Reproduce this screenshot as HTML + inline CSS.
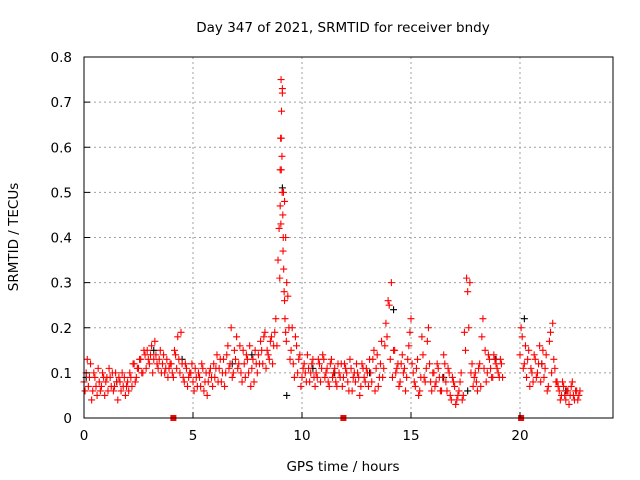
<!DOCTYPE html>
<html><head><meta charset="utf-8"><style>
body{margin:0;background:#fff}
svg{display:block;font-family:"DejaVu Sans","Liberation Sans",sans-serif}
</style></head><body>
<svg id="chart" width="640" height="480">
<text x="343" y="32" font-size="13.5" text-anchor="middle">Day 347 of 2021, SRMTID for receiver bndy</text>
<text x="343" y="471" font-size="13.5" text-anchor="middle">GPS time / hours</text>
<text x="18" y="237" font-size="13.5" text-anchor="middle" transform="rotate(-90 18 237)">SRMTID / TECUs</text>
<g id="grid"></g>
<g id="marks"></g>
<rect x="84" y="57" width="529" height="361" fill="none" stroke="#000"/>
<g id="ticks"></g>
</svg>
<script>
const xTicks=[0,5,10,15,20];
const yTicks=[0,0.1,0.2,0.3,0.4,0.5,0.6,0.7,0.8];
const yTickLabels=["0","0.1","0.2","0.3","0.4","0.5","0.6","0.7","0.8"];
const redA=[0.08,0.10,0.07,0.12,0.06,0.09,0.05,0.08,0.07,0.09,0.08,0.06,0.09,0.10,0.07,0.08,0.09,0.06,0.07,0.05,0.08,0.10,0.07,0.12,0.09,0.11,0.13,0.10,0.14,0.15,0.12,0.16,0.13,0.14,0.11,0.15,0.12,0.10,0.13,0.11,0.12,0.09,0.14,0.18,0.10,0.12,0.08,0.11,0.09,0.10,0.08,0.11,0.07,0.09,0.12,0.06,0.10,0.08,0.11,0.07,0.09,0.14,0.11,0.08,0.13,0.10,0.16,0.12,0.09,0.15,0.18,0.12,0.10,0.15,0.09,0.13,0.16,0.11,0.08,0.12,0.14,0.17,0.12,0.19,0.15,0.13,0.18,0.16,0.22,0.35,0.55,0.72,0.48,0.30,0.20,0.15,0.12,0.18,0.10,0.14,0.09,0.12,0.08,0.11,0.10,0.13,0.07,0.09,0.12,0.11,0.13,0.10,0.08,0.12,0.09,0.11,0.07,0.10,0.12,0.09,0.11,0.08,0.13,0.06,0.10,0.12,0.09,0.07,0.11,0.08,0.10,0.13,0.08,0.15,0.11,0.07,0.12,0.09,0.16,0.18,0.25,0.30,0.15,0.10,0.12,0.08,0.14,0.11,0.09,0.16,0.22,0.10,0.07,0.13,0.06,0.18,0.09,0.11,0.20,0.08,0.10,0.07,0.12,0.09,0.06,0.14,0.08,0.11,0.05,0.09,0.07,0.04,0.06,0.10,0.05,0.15,0.28,0.30,0.12,0.09,0.08,0.11,0.07,0.22,0.15,0.10,0.13,0.09,0.14,0.12,0.10,0.13,0.09];
const redB=[0.06,0.13,0.09,0.04,0.10,0.07,0.11,0.06,0.10,0.05,0.09,0.11,0.07,0.06,0.10,0.04,0.08,0.10,0.09,0.07,0.06,0.09,0.12,0.08,0.11,0.13,0.10,0.15,0.11,0.13,0.14,0.10,0.17,0.12,0.13,0.10,0.14,0.11,0.09,0.12,0.10,0.15,0.11,0.13,0.19,0.09,0.12,0.07,0.10,0.12,0.06,0.09,0.10,0.07,0.11,0.08,0.05,0.10,0.09,0.12,0.11,0.08,0.13,0.10,0.07,0.14,0.11,0.20,0.10,0.13,0.11,0.16,0.08,0.12,0.14,0.10,0.07,0.13,0.15,0.10,0.12,0.15,0.18,0.11,0.14,0.17,0.12,0.19,0.16,0.42,0.62,0.50,0.40,0.27,0.13,0.20,0.09,0.16,0.13,0.07,0.11,0.10,0.14,0.08,0.12,0.09,0.10,0.13,0.08,0.14,0.09,0.11,0.07,0.13,0.10,0.08,0.12,0.09,0.07,0.12,0.10,0.06,0.11,0.09,0.08,0.10,0.05,0.12,0.09,0.11,0.07,0.10,0.13,0.06,0.14,0.09,0.17,0.11,0.21,0.26,0.13,0.09,0.15,0.11,0.07,0.12,0.10,0.06,0.13,0.19,0.12,0.08,0.11,0.05,0.09,0.14,0.08,0.17,0.12,0.06,0.10,0.08,0.11,0.06,0.09,0.12,0.06,0.10,0.04,0.08,0.03,0.05,0.08,0.04,0.19,0.31,0.20,0.10,0.07,0.10,0.06,0.12,0.18,0.11,0.08,0.14,0.11,0.09,0.13,0.11,0.09,0.12];
const redC=[0.14,0.18,0.12,0.09,0.15,0.11,0.08,0.13,0.10,0.16,0.12,0.09,0.14,0.07,0.19,0.21,0.11,0.08,0.06,0.05,0.07,0.04,0.06,0.05,0.08,0.04,0.06,0.05];
const redD=[0.20,0.11,0.16,0.13,0.07,0.10,0.14,0.09,0.12,0.08,0.15,0.11,0.06,0.17,0.10,0.13,0.08,0.07,0.04,0.08,0.05,0.06,0.03,0.07,0.05,0.06,0.04,0.06];
const spikeHours=[9.0,9.02,9.04,9.06,9.08,9.1,9.12,9.14,9.16,9.18,9.2,9.22,9.25,9.28,9.05,9.09,9.13,8.98,9.03];
const spikeValues=[0.47,0.62,0.75,0.68,0.58,0.73,0.45,0.40,0.33,0.28,0.26,0.22,0.19,0.17,0.55,0.50,0.37,0.31,0.43];
const blackHours=[0.1,1.5,3.2,6.8,9.1,9.3,10.5,13.1,14.2,16.5,17.6,18.9,20.2,21.0,22.1,4.5,7.7,11.5];
const blackValues=[0.09,0.08,0.15,0.12,0.51,0.05,0.11,0.10,0.24,0.09,0.06,0.13,0.22,0.12,0.06,0.13,0.14,0.10];
const gapHours=[4.1,11.9,20.05];

const X0=84,X1=613,Y0=418,Y1=57;
function xs(h){return X0+h*21.8;}
function ys(v){return Y0-(v/0.8)*(Y0-Y1);}
const NS='http://www.w3.org/2000/svg';
const grid=document.getElementById('grid'),ticks=document.getElementById('ticks'),marks=document.getElementById('marks');
function mk(tag,attrs,parent){const e=document.createElementNS(NS,tag);for(const k in attrs)e.setAttribute(k,attrs[k]);parent.appendChild(e);return e;}
xTicks.forEach(t=>{
 const x=xs(t);
 if(t>0){const g=mk('line',{x1:x,x2:x,y1:Y1,y2:Y0,stroke:'#a0a0a0','stroke-dasharray':'2,3'},grid);
 
 }
 const l=mk('line',{x1:x,x2:x,y1:Y0,y2:Y0-6,stroke:'#000'},ticks);
 
 
 const tx=mk('text',{x:x,y:Y0+22,'font-size':13.5,'text-anchor':'middle'},ticks);tx.textContent=t;
 
 
});
yTicks.forEach((t,i)=>{
 const y=ys(t);
 if(i>0&&i<yTicks.length-1){const g=mk('line',{x1:X0,x2:X1,y1:y,y2:y,stroke:'#a0a0a0','stroke-dasharray':'2,3'},grid);
 
 }
 const l=mk('line',{x1:X0,x2:X0+6,y1:y,y2:y,stroke:'#000'},ticks);
 
 
 const tx=mk('text',{x:X0-12,y:y+5,'font-size':13.5,'text-anchor':'end'},ticks);tx.textContent=yTickLabels[i];
 
 
});
function plus(h,v,col){
 const x=xs(h),y=ys(v);
 const p=mk('path',{d:`M${x-3.5},${y}h7M${x},${y-3.5}v7`,stroke:col,'stroke-width':1.1},marks);
 
 
}
blackHours.forEach((h,i)=>plus(h,blackValues[i],'#000'));
redA.forEach((v,i)=>plus(i*0.1,v,'#f00'));
redB.forEach((v,i)=>plus(i*0.1+0.05,v,'#f00'));
redC.forEach((v,i)=>plus(20+i*0.1,v,'#f00'));
redD.forEach((v,i)=>plus(20.05+i*0.1,v,'#f00'));
spikeHours.forEach((h,i)=>plus(h,spikeValues[i],'#f00'));
gapHours.forEach(h=>{
 const r=mk('rect',{x:xs(h)-3,y:Y0-3,width:6,height:6,fill:'#f00'},marks);
 
 
});
</script>
</body></html>
